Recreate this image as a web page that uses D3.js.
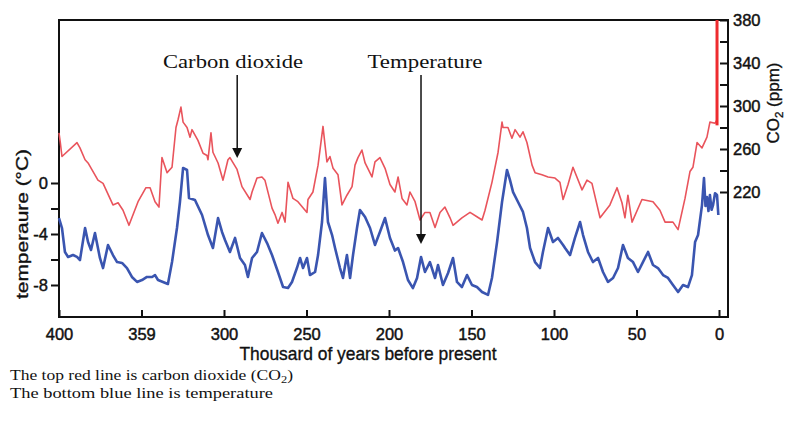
<!DOCTYPE html>
<html>
<head>
<meta charset="utf-8">
<script src="https://cdn.jsdelivr.net/npm/d3@7"></script>
<style>
  html, body { margin: 0; padding: 0; background: #fff; }
  svg { display: block; }
  .tick-label { font-family: "Liberation Sans", Arial, sans-serif; font-size: 16.5px; fill: #111; stroke: #111; stroke-width: 0.45px; }
  .axis-title { font-family: "Liberation Sans", Arial, sans-serif; fill: #111; stroke: #111; stroke-width: 0.35px; }
  .serif { font-family: "Liberation Serif", "Times New Roman", serif; fill: #111; }
</style>
</head>
<body>
<svg id="chart" width="788" height="421"></svg>
<script>
// Age axis, thousand years before present
const xTickValues = [400, 350, 300, 250, 200, 150, 100, 50, 0];
const xTickLabels = ["400", "359", "300", "250", "200", "150", "100", "50", "0"];
const tempTickValues = [0, -2, -4, -6, -8];
const tempTickLabels = ["0", "", "-4", "", "-8"];
const co2TickValues = [220, 240, 260, 280, 300, 320, 340, 360, 380];
const co2TickLabels = ["220", "", "260", "", "300", "", "340", "", "380"];

// Ice-core CO2 record (ppm)
const co2Age = [400.0, 399.2, 398.2, 389.1, 387.3, 384.2, 382.4, 376.4, 373.3, 367.3, 364.2, 361.2, 357.6, 352.1, 347.3, 344.8, 341.8, 339.4, 337.6, 334.5, 331.5, 329.1, 327.9, 326.1, 324.8, 322.4, 320.6, 319.4, 315.8, 312.7, 310.3, 309.7, 307.9, 306.7, 303.6, 300.6, 297.6, 296.4, 292.1, 289.1, 284.2, 283.0, 280.0, 277.0, 275.2, 270.9, 269.1, 267.3, 264.8, 263.0, 261.2, 258.2, 255.2, 249.7, 249.1, 246.1, 243.0, 240.0, 238.8, 237.6, 235.8, 233.9, 230.9, 228.5, 225.5, 222.4, 220.6, 218.8, 216.4, 214.5, 210.3, 208.5, 205.5, 202.4, 199.4, 196.4, 194.5, 192.1, 189.1, 187.3, 184.2, 181.2, 178.2, 175.2, 172.1, 169.1, 166.1, 163.0, 161.2, 155.8, 150.9, 146.7, 143.6, 141.8, 137.6, 133.9, 131.5, 130.9, 127.9, 125.5, 123.6, 120.6, 118.8, 116.4, 113.3, 111.5, 107.3, 103.6, 99.4, 96.4, 94.5, 91.5, 88.5, 83.0, 80.0, 77.0, 72.1, 66.1, 61.8, 58.8, 57.0, 55.2, 52.7, 46.7, 40.0, 35.8, 32.7, 27.9, 24.8, 20.6, 17.6, 15.8, 13.3, 10.3, 7.3, 5.5, 2.4, 1.2];
const co2Ppm = [275, 266, 253, 266, 261, 250, 247, 231, 228, 208, 210, 203, 189, 211, 224, 224, 211, 206, 252, 238, 243, 280, 287, 299, 285, 280, 271, 278, 268, 256, 254, 250, 275, 257, 247, 231, 250, 252, 241, 225, 213, 220, 233, 234, 231, 205, 199, 191, 201, 192, 229, 214, 211, 201, 213, 220, 245, 281, 264, 248, 253, 242, 236, 208, 217, 225, 245, 252, 259, 247, 234, 248, 252, 242, 227, 220, 234, 214, 208, 220, 211, 194, 201, 201, 187, 201, 206, 196, 189, 196, 201, 197, 194, 203, 229, 257, 285, 280, 280, 270, 278, 271, 276, 266, 245, 238, 236, 234, 233, 229, 213, 227, 243, 222, 231, 228, 196, 208, 224, 210, 196, 217, 192, 213, 211, 203, 192, 192, 185, 214, 239, 243, 266, 261, 271, 285, 284, 287];
// Industrial-era CO2 rise
const modernAge = [1.2, 1.2];
const modernPpm = [282, 380];

// Temperature anomaly (°C)
const tempAge = [400.0, 398.2, 396.4, 394.5, 391.5, 389.1, 387.3, 384.2, 382.4, 380.6, 378.2, 375.2, 373.3, 370.3, 367.3, 364.8, 361.8, 358.8, 355.8, 352.7, 349.7, 346.7, 343.6, 341.8, 340.0, 337.0, 334.0, 331.5, 328.5, 326.7, 324.8, 322.4, 321.2, 317.6, 313.3, 309.7, 306.7, 303.6, 301.2, 299.4, 296.4, 293.3, 290.3, 287.3, 285.5, 283.0, 280.0, 277.0, 273.9, 270.9, 267.3, 264.2, 261.2, 258.8, 255.8, 253.9, 252.1, 249.7, 247.9, 244.8, 243.0, 240.6, 238.8, 237.0, 234.5, 232.7, 229.7, 227.9, 225.5, 223.6, 221.8, 219.4, 217.6, 214.5, 211.5, 208.5, 205.5, 202.4, 199.4, 196.4, 194.5, 191.5, 188.5, 185.5, 183.0, 180.6, 178.2, 175.2, 172.1, 170.3, 167.3, 164.2, 161.2, 158.8, 155.8, 152.7, 149.7, 146.7, 143.6, 140.0, 137.6, 134.5, 131.5, 128.5, 126.7, 124.8, 121.8, 118.8, 116.4, 114.5, 111.5, 108.5, 106.7, 103.6, 100.6, 97.6, 94.5, 93.3, 90.3, 87.3, 84.2, 82.4, 79.4, 76.4, 73.3, 70.3, 67.3, 64.2, 61.2, 58.2, 55.2, 52.1, 49.1, 46.1, 43.0, 40.0, 37.0, 33.9, 30.9, 27.9, 24.8, 21.8, 18.8, 16.4, 14.5, 12.7, 10.3, 9.1, 8.2, 7.3, 6.4, 5.5, 4.5, 3.6, 2.4, 1.2, 0.4];
const tempC = [-2.75, -3.53, -5.41, -5.80, -5.65, -5.80, -6.04, -3.53, -4.63, -5.25, -3.92, -5.88, -6.67, -4.86, -5.65, -6.20, -6.27, -6.67, -7.37, -7.76, -7.61, -7.37, -7.37, -7.22, -7.61, -7.76, -7.92, -6.20, -3.53, -1.49, 1.18, 1.02, -1.18, -1.33, -2.51, -4.08, -5.10, -2.75, -3.84, -4.47, -5.41, -4.31, -5.88, -6.43, -7.37, -5.88, -5.41, -3.92, -4.71, -5.65, -6.98, -8.16, -8.24, -7.76, -6.67, -5.88, -6.67, -5.88, -7.22, -6.98, -5.65, -3.06, 0.39, -3.06, -4.08, -5.10, -6.67, -7.45, -5.65, -7.45, -5.65, -3.53, -2.12, -2.67, -3.53, -4.86, -3.84, -2.75, -4.31, -5.30, -5.10, -6.20, -7.61, -8.24, -7.45, -5.80, -6.98, -6.20, -7.45, -6.43, -8.00, -7.06, -5.88, -7.76, -8.16, -7.22, -8.00, -8.16, -8.55, -8.78, -7.45, -4.63, -1.49, 1.02, 0.24, -0.71, -1.49, -2.27, -3.53, -5.10, -6.20, -6.67, -5.41, -3.53, -4.63, -4.31, -4.86, -5.10, -5.65, -4.31, -3.06, -4.08, -5.41, -6.20, -5.88, -6.98, -7.76, -7.45, -6.67, -4.86, -5.88, -6.20, -6.98, -6.20, -5.41, -6.43, -6.67, -7.22, -7.45, -8.00, -8.55, -8.00, -8.16, -7.22, -4.63, -4.08, -1.73, 0.39, -1.80, -1.10, -2.20, -0.94, -2.10, -1.73, -0.80, -0.94, -2.51];

const svg = d3.select("#chart");

const plot = { left: 59, right: 728, top: 20, bottom: 317 };
const x = d3.scaleLinear().domain([400, 0]).range([59, 719]);
const yTemp = d3.scaleLinear().domain([0, -8]).range([183, 285]);
const yCo2 = d3.scaleLinear().domain([220, 380]).range([192, 20]);

// Frame
svg.append("rect")
  .attr("x", plot.left).attr("y", plot.top)
  .attr("width", plot.right - plot.left).attr("height", plot.bottom - plot.top)
  .attr("fill", "none").attr("stroke", "#111").attr("stroke-width", 2);

// Bottom axis: ticks point into the plot
const xAxis = d3.axisBottom(x)
  .tickValues(xTickValues)
  .tickSizeInner(-7).tickSizeOuter(0)
  .tickPadding(11)
  .tickFormat((d, i) => xTickLabels[i]);
const gx = svg.append("g").attr("transform", `translate(0,${plot.bottom})`).call(xAxis);
gx.select(".domain").remove();
gx.selectAll(".tick line").attr("stroke", "#111").attr("stroke-width", 2);
gx.selectAll(".tick text").attr("class", "tick-label").attr("dy", "0.71em");

// Left temperature axis
const tAxis = d3.axisLeft(yTemp)
  .tickValues(tempTickValues)
  .tickSizeInner(8).tickSizeOuter(0)
  .tickPadding(3)
  .tickFormat((d, i) => tempTickLabels[i]);
const gt = svg.append("g").attr("transform", `translate(${plot.left},0)`).call(tAxis);
gt.select(".domain").remove();
gt.selectAll(".tick line").attr("stroke", "#111").attr("stroke-width", 2);
gt.selectAll(".tick text").attr("class", "tick-label");

// Right CO2 axis: ticks point into the plot
const cAxis = d3.axisRight(yCo2)
  .tickValues(co2TickValues)
  .tickSizeInner(-8).tickSizeOuter(0)
  .tickPadding(14)
  .tickFormat((d, i) => co2TickLabels[i]);
const gc = svg.append("g").attr("transform", `translate(${plot.right},0)`).call(cAxis);
gc.select(".domain").remove();
gc.selectAll(".tick line").attr("stroke", "#111").attr("stroke-width", 2);
gc.selectAll(".tick text").attr("class", "tick-label").attr("x", 5);

// Series
const co2Line = d3.line().x((d, i) => x(co2Age[i])).y(d => yCo2(d));
svg.append("path")
  .attr("d", co2Line(co2Ppm))
  .attr("fill", "none").attr("stroke", "#e9545c").attr("stroke-width", 1.6)
  .attr("stroke-linejoin", "round");

const modernLine = d3.line().x((d, i) => x(modernAge[i])).y(d => yCo2(d));
svg.append("path")
  .attr("d", modernLine(modernPpm))
  .attr("fill", "none").attr("stroke", "#ee2b2e").attr("stroke-width", 3);

const tempLine = d3.line().x((d, i) => x(tempAge[i])).y(d => yTemp(d));
svg.append("path")
  .attr("d", tempLine(tempC))
  .attr("fill", "none").attr("stroke", "#3a55b0").attr("stroke-width", 2.6)
  .attr("stroke-linejoin", "round");

// Axis titles
svg.append("text").attr("class", "axis-title")
  .attr("x", 368).attr("y", 360)
  .attr("text-anchor", "middle").attr("font-size", 19)
  .attr("textLength", 257).attr("lengthAdjust", "spacingAndGlyphs")
  .text("Thousard of years before present");

svg.append("text").attr("class", "axis-title")
  .attr("transform", "translate(28,224) rotate(-90)")
  .attr("text-anchor", "middle").attr("font-size", 17)
  .attr("textLength", 150).attr("lengthAdjust", "spacingAndGlyphs")
  .text("temperaure (°C)");

const co2Title = svg.append("text").attr("class", "axis-title")
  .attr("transform", "translate(779,103) rotate(-90)")
  .attr("text-anchor", "middle").attr("font-size", 17);
co2Title.append("tspan").text("CO");
co2Title.append("tspan").attr("font-size", 11.5).attr("dy", 4).text("2");
co2Title.append("tspan").attr("dy", -4).text(" (ppm)");

// Annotations with arrows
function arrow(xPos, y0, y1) {
  svg.append("line")
    .attr("x1", xPos).attr("x2", xPos).attr("y1", y0).attr("y2", y1 - 8)
    .attr("stroke", "#111").attr("stroke-width", 1.5);
  svg.append("path")
    .attr("d", `M${xPos - 5},${y1 - 10} L${xPos + 5},${y1 - 10} L${xPos},${y1} Z`)
    .attr("fill", "#111");
}
svg.append("text").attr("class", "serif")
  .attr("x", 233).attr("y", 68).attr("text-anchor", "middle").attr("font-size", 19)
  .attr("textLength", 140).attr("lengthAdjust", "spacingAndGlyphs")
  .text("Carbon dioxide");
arrow(x(292), 75, 158);

svg.append("text").attr("class", "serif")
  .attr("x", 425).attr("y", 68).attr("text-anchor", "middle").attr("font-size", 19)
  .attr("textLength", 115).attr("lengthAdjust", "spacingAndGlyphs")
  .text("Temperature");
arrow(x(180.6), 75, 244);

// Captions
const cap1 = svg.append("text").attr("class", "serif")
  .attr("x", 10).attr("y", 380).attr("font-size", 15.5)
  .attr("textLength", 283).attr("lengthAdjust", "spacingAndGlyphs");
cap1.append("tspan").text("The top red line is carbon dioxide (CO");
cap1.append("tspan").attr("font-size", 11).attr("dy", 3).text("2");
cap1.append("tspan").attr("dy", -3).text(")");

svg.append("text").attr("class", "serif")
  .attr("x", 10).attr("y", 398).attr("font-size", 15.5)
  .attr("textLength", 263).attr("lengthAdjust", "spacingAndGlyphs")
  .text("The bottom blue line is temperature");
</script>
</body>
</html>
